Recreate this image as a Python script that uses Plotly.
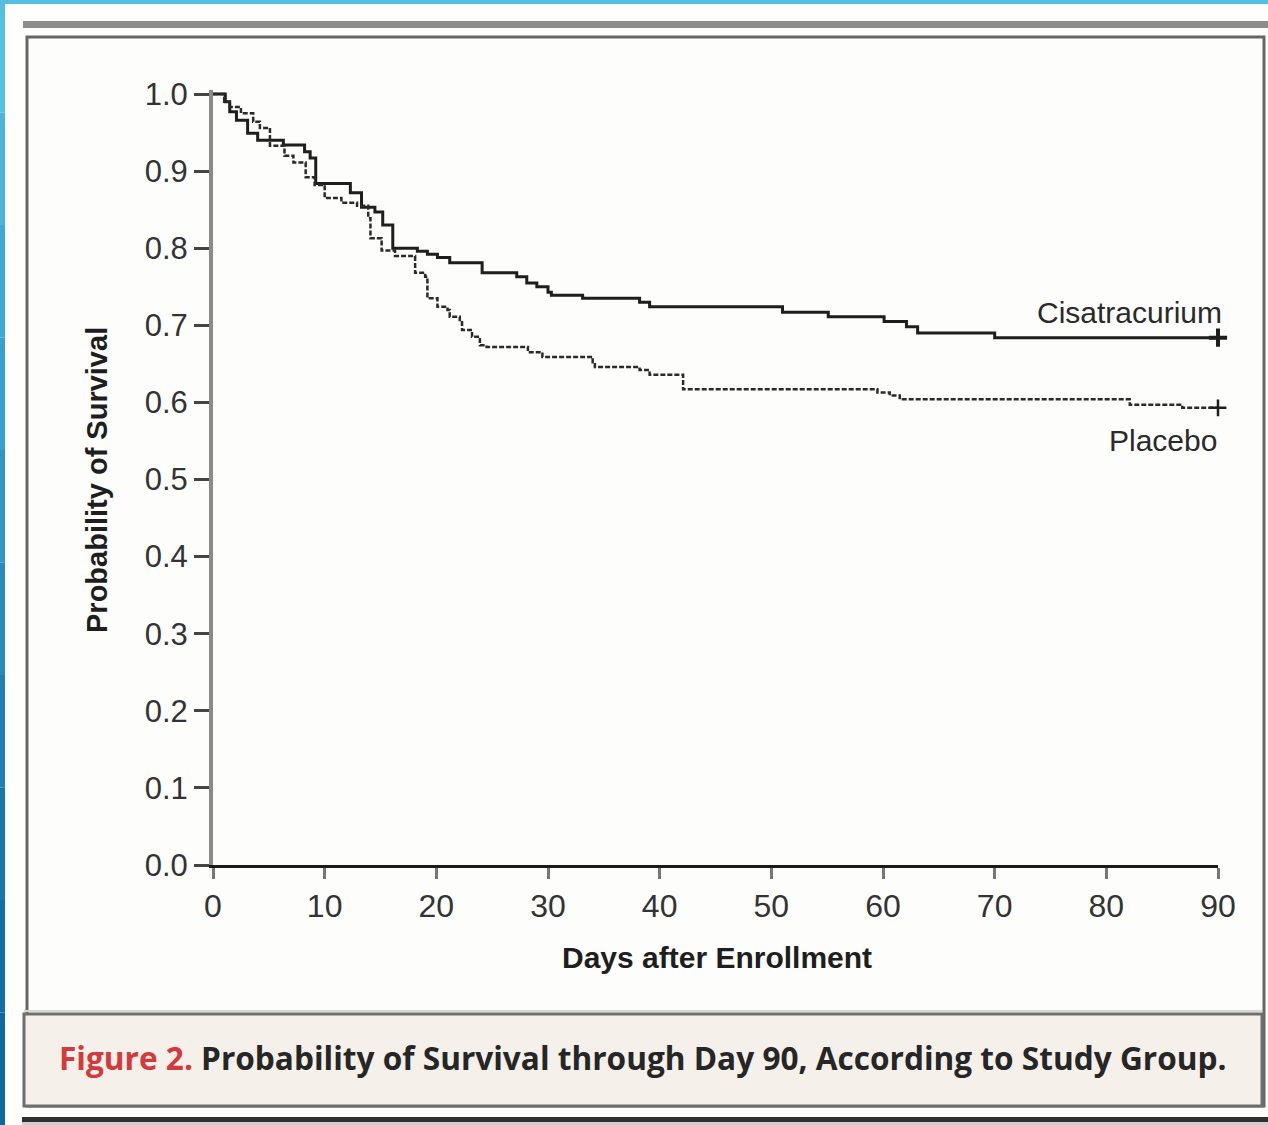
import plotly.graph_objects as go

# ---------------- data ----------------
days_cis = [0, 1.1, 1.5, 2.1, 3.1, 4.0, 6.3, 8.2, 8.7, 9.2,
            12.3, 13.3, 14.5, 15.2, 16.1, 18.3, 19.2, 20.1, 21.2, 24.1,
            27.2, 28.1, 29.0, 30.0, 30.3, 33.1, 38.2, 39.1, 51.0, 55.1,
            60.1, 62.1, 63.1, 70.0, 90]
surv_cis = [1.000, 0.990, 0.977, 0.966, 0.949, 0.940, 0.934, 0.925, 0.917, 0.884,
            0.872, 0.853, 0.847, 0.830, 0.800, 0.796, 0.792, 0.788, 0.781, 0.768,
            0.763, 0.755, 0.750, 0.743, 0.739, 0.735, 0.730, 0.724, 0.717, 0.711,
            0.705, 0.698, 0.690, 0.684, 0.684]

days_pla = [0, 1.0, 1.5, 2.5, 3.6, 4.2, 5.1, 6.4, 7.2, 8.3,
            9.1, 10.0, 11.5, 12.9, 13.9, 14.1, 15.1, 16.3, 18.1, 19.0,
            19.2, 20.1, 21.0, 21.2, 22.1, 22.3, 23.2, 23.9, 24.5, 28.2,
            29.5, 34.0, 34.2, 38.2, 39.1, 42.1, 59.5, 60.6, 61.5, 82.1,
            86.8, 90]
surv_pla = [1.000, 0.990, 0.983, 0.975, 0.964, 0.956, 0.933, 0.920, 0.911, 0.892,
            0.882, 0.865, 0.859, 0.855, 0.839, 0.813, 0.797, 0.790, 0.768, 0.763,
            0.735, 0.724, 0.720, 0.711, 0.707, 0.694, 0.685, 0.674, 0.672, 0.665,
            0.659, 0.652, 0.646, 0.642, 0.636, 0.617, 0.613, 0.609, 0.604, 0.597,
            0.593, 0.593]

x_ticks = [0, 10, 20, 30, 40, 50, 60, 70, 80, 90]
y_ticks = [0.0, 0.1, 0.2, 0.3, 0.4, 0.5, 0.6, 0.7, 0.8, 0.9, 1.0]
y_tick_labels = ["0.0", "0.1", "0.2", "0.3", "0.4", "0.5", "0.6", "0.7", "0.8", "0.9", "1.0"]

series_names = ["Cisatracurium", "Placebo"]
x_title = "Days after Enrollment"
y_title = "Probability of Survival"
caption_lead = "Figure 2."
caption_text = "Probability of Survival through Day 90, According to Study Group."

# ---------------- layout geometry ----------------
W, H = 1268, 1125
L, R, T, B = 213, 1218, 90, 865
PW, PH = R - L, B - T


def px(x):
    return (x - L) / PW


def py(y):
    return (B - y) / PH


SANS = "Liberation Sans, Arial, sans-serif"

fig = go.Figure()

fig.add_trace(go.Scatter(
    x=days_cis, y=surv_cis, mode="lines", line_shape="hv",
    line=dict(color="#1e1e1e", width=3), name=series_names[0], showlegend=False))
fig.add_trace(go.Scatter(
    x=days_pla, y=surv_pla, mode="lines", line_shape="hv",
    line=dict(color="#2a2a2a", width=2.5, dash="5px,2px"), name=series_names[1], showlegend=False))

# censor marks at the end of follow-up
fig.add_trace(go.Scatter(
    x=[days_cis[-1]], y=[surv_cis[-1]], mode="markers", cliponaxis=False,
    marker=dict(symbol="cross-thin-open", size=13, color="#1e1e1e",
                line=dict(color="#1e1e1e", width=4)),
    showlegend=False, hoverinfo="skip"))
fig.add_trace(go.Scatter(
    x=[days_pla[-1]], y=[surv_pla[-1]], mode="markers", cliponaxis=False,
    marker=dict(symbol="cross-thin-open", size=12, color="#1e1e1e",
                line=dict(color="#1e1e1e", width=2.5)),
    showlegend=False, hoverinfo="skip"))

shapes = []
# blue page edges
blues = ["#55bfe2", "#4cb5dc", "#42a9d4", "#3a9fcc", "#3194c4", "#2989bb", "#217fb3", "#1a75ab", "#146ca4", "#10669f"]
n = len(blues)
for i, c in enumerate(blues):
    shapes.append(dict(type="rect", xref="paper", yref="paper",
                       x0=px(0), x1=px(5), y0=py(i * H / n), y1=py((i + 1) * H / n),
                       fillcolor=c, line=dict(width=0), layer="below"))
shapes.append(dict(type="rect", xref="paper", yref="paper",
                   x0=px(0), x1=px(W), y0=py(0), y1=py(4),
                   fillcolor="#55bfe2", line=dict(width=0), layer="below"))
# top grey rule
shapes.append(dict(type="rect", xref="paper", yref="paper",
                   x0=px(23), x1=px(W), y0=py(21), y1=py(28),
                   fillcolor="#8c8c8c", line=dict(width=0), layer="below"))
# figure frame
shapes.append(dict(type="rect", xref="paper", yref="paper",
                   x0=px(27), x1=px(1264), y0=py(37), y1=py(1106),
                   fillcolor="#fdfdfb", line=dict(color="#666666", width=3), layer="below"))
# caption box
shapes.append(dict(type="rect", xref="paper", yref="paper",
                   x0=px(24), x1=px(1262), y0=py(1014), y1=py(1106),
                   fillcolor="#f5f0ea", line=dict(color="#6e6e6e", width=3), layer="below"))
shapes.append(dict(type="line", xref="paper", yref="paper",
                   x0=px(24), x1=px(1262), y0=py(1011), y1=py(1011),
                   line=dict(color="#d6d6d6", width=2), layer="below"))
# bottom dark rule
shapes.append(dict(type="rect", xref="paper", yref="paper",
                   x0=px(22), x1=px(W), y0=py(1117), y1=py(1122),
                   fillcolor="#303030", line=dict(width=0), layer="below"))
shapes.append(dict(type="rect", xref="paper", yref="paper",
                   x0=px(22), x1=px(W), y0=py(1122), y1=py(1125),
                   fillcolor="#cfcfcf", line=dict(width=0), layer="below"))

annotations = [
    dict(text=series_names[0], x=px(1224), y=py(312), xref="paper", yref="paper",
         xanchor="right", yanchor="middle", showarrow=False,
         font=dict(family=SANS, size=30, color="#2a2a2a")),
    dict(text=series_names[1], x=px(1219), y=py(440), xref="paper", yref="paper",
         xanchor="right", yanchor="middle", showarrow=False,
         font=dict(family=SANS, size=30, color="#2a2a2a")),
    dict(text="<b>" + x_title + "</b>", x=px(717), y=py(957), xref="paper", yref="paper",
         xanchor="center", yanchor="middle", showarrow=False,
         font=dict(family=SANS, size=30, color="#1e1e1e")),
    dict(text="<b>" + y_title + "</b>", x=px(97), y=py(480), xref="paper", yref="paper",
         xanchor="center", yanchor="middle", showarrow=False, textangle=-90,
         font=dict(family=SANS, size=29, color="#1e1e1e")),
    dict(text="<span style='color:#d33a3c'>" + caption_lead + "</span> " + caption_text,
         x=px(57), y=py(1057), xref="paper", yref="paper",
         xanchor="left", yanchor="middle", showarrow=False,
         font=dict(family="Open Sans, sans-serif", size=31.6, color="#262626", weight=700)),
]

fig.update_layout(
    width=W, height=H,
    margin=dict(l=L, r=W - R, t=T, b=H - B, pad=0),
    paper_bgcolor="#fefefd", plot_bgcolor="#fdfdfb",
    shapes=shapes, annotations=annotations,
    xaxis=dict(range=[0, 90], tickvals=x_ticks, ticktext=[str(v) for v in x_ticks],
               showgrid=False, zeroline=False,
               showline=True, linecolor="#1a1a1a", linewidth=3,
               ticks="outside", ticklen=11, tickwidth=3, tickcolor="#777777",
               tickfont=dict(family=SANS, size=32, color="#333333")),
    yaxis=dict(range=[0, PH / 771], tickvals=y_ticks, ticktext=y_tick_labels,
               showgrid=False, zeroline=False,
               showline=True, linecolor="#8a8a8a", linewidth=4,
               ticks="outside", ticklen=15, tickwidth=3, tickcolor="#444444",
               tickfont=dict(family=SANS, size=31, color="#333333")),
)

fig.write_html("out.html", config={"displayModeBar": False},
               post_script="document.body.style.margin='0';document.body.style.overflow='hidden';")
